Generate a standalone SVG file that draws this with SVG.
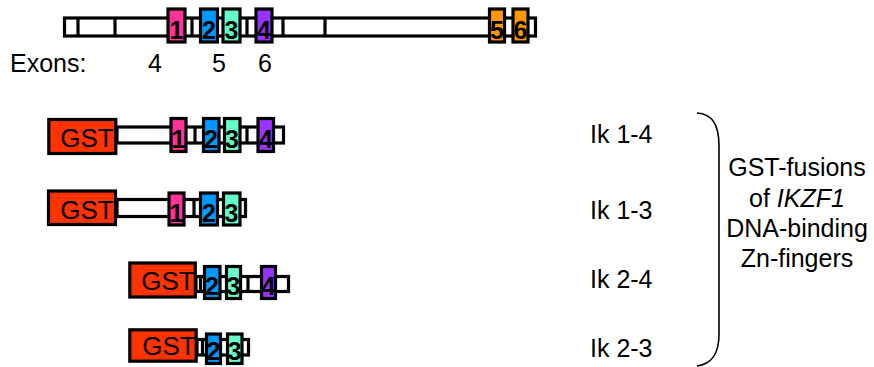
<svg xmlns="http://www.w3.org/2000/svg" width="874" height="367" viewBox="0 0 874 367">
  <defs>
    <style>
      .bar { fill: #fff; stroke: #000; stroke-width: 3.2; }
      .div { stroke: #000; stroke-width: 3.2; }
      .ex { stroke: #000; stroke-width: 3.2; }
      .e1 { fill: #FF3399; }
      .e2 { fill: #0099FF; }
      .e3 { fill: #66FFCC; }
      .e4 { fill: #9933FF; }
      .e5 { fill: #FF9900; }
      .gst { fill: #FF3300; stroke: #000; stroke-width: 3.2; }
      .num { font-family: "Liberation Sans", Arial, sans-serif; font-weight: bold; font-size: 25px; text-anchor: middle; fill: #000; }
      .lbl { font-family: "Liberation Sans", Arial, sans-serif; font-size: 25px; fill: #000; }
      .gtx { font-family: "Liberation Sans", Arial, sans-serif; font-size: 26px; text-anchor: middle; fill: #000; }
      .mid { text-anchor: middle; }
      .brace { fill: none; stroke: #000; stroke-width: 1.6; }
    </style>
  </defs>

  <!-- full-length gene model -->
  <g id="gene">
    <rect class="bar" x="64.5" y="18" width="471" height="18"/>
    <line class="div" x1="78" y1="18" x2="78" y2="36"/>
    <line class="div" x1="115" y1="18" x2="115" y2="36"/>
    <line class="div" x1="192" y1="18" x2="192" y2="36"/>
    <line class="div" x1="247" y1="18" x2="247" y2="36"/>
    <line class="div" x1="283" y1="18" x2="283" y2="36"/>
    <line class="div" x1="325" y1="18" x2="325" y2="36"/>
    <rect class="ex e1" x="168" y="9" width="17" height="33"/>
    <text class="num" x="176.5" y="39">1</text>
    <rect class="ex e2" x="200.5" y="9" width="17" height="33"/>
    <text class="num" x="209" y="39">2</text>
    <rect class="ex e3" x="223" y="9" width="17" height="33"/>
    <text class="num" x="231.5" y="39">3</text>
    <rect class="ex e4" x="256" y="9" width="16" height="33"/>
    <text class="num" x="264" y="39">4</text>
    <rect class="ex e5" x="489.5" y="9" width="15" height="33"/>
    <text class="num" x="497" y="39">5</text>
    <rect class="ex e5" x="513" y="9" width="15" height="33"/>
    <text class="num" x="520.5" y="39">6</text>
  </g>

  <g id="exon-labels">
    <text class="lbl" x="10" y="72">Exons:</text>
    <text class="lbl mid" x="155" y="72">4</text>
    <text class="lbl mid" x="219" y="72">5</text>
    <text class="lbl mid" x="265" y="72">6</text>
  </g>

  <!-- Ik 1-4 -->
  <g id="ik14">
    <rect class="bar" x="117" y="127" width="166.5" height="16"/>
    <line class="div" x1="195" y1="127" x2="195" y2="143"/>
    <line class="div" x1="247" y1="127" x2="247" y2="143"/>
    <rect class="gst" x="48.8" y="119.5" width="67" height="34"/>
    <text class="gtx" x="87" y="147">GST</text>
    <rect class="ex e1" x="171" y="118.5" width="15" height="33"/>
    <text class="num" x="178.5" y="148">1</text>
    <rect class="ex e2" x="203.5" y="118.5" width="15.5" height="33"/>
    <text class="num" x="211" y="148">2</text>
    <rect class="ex e3" x="224.5" y="118.5" width="15.5" height="33"/>
    <text class="num" x="232" y="148">3</text>
    <rect class="ex e4" x="258" y="118.5" width="15.5" height="33"/>
    <text class="num" x="266" y="148">4</text>
    <text class="lbl" x="590" y="143">Ik 1-4</text>
  </g>

  <!-- Ik 1-3 -->
  <g id="ik13">
    <rect class="bar" x="117" y="199.5" width="128.5" height="17"/>
    <line class="div" x1="194" y1="199.5" x2="194" y2="216.5"/>
    <rect class="gst" x="48.5" y="191" width="67" height="33.5"/>
    <text class="gtx" x="87" y="218.5">GST</text>
    <rect class="ex e1" x="169" y="193" width="15" height="32"/>
    <text class="num" x="176.5" y="222">1</text>
    <rect class="ex e2" x="200.5" y="193" width="17" height="32"/>
    <text class="num" x="209" y="222">2</text>
    <rect class="ex e3" x="223.5" y="193" width="16.5" height="32"/>
    <text class="num" x="231.5" y="222">3</text>
    <text class="lbl" x="590" y="219">Ik 1-3</text>
  </g>

  <!-- Ik 2-4 -->
  <g id="ik24">
    <rect class="bar" x="196" y="276.5" width="92.5" height="15"/>
    <line class="div" x1="200.5" y1="276.5" x2="200.5" y2="291.5"/>
    <line class="div" x1="248" y1="276.5" x2="248" y2="291.5"/>
    <rect class="gst" x="129.8" y="263" width="65.5" height="34"/>
    <text class="gtx" x="168" y="290">GST</text>
    <rect class="ex e2" x="204.5" y="266.5" width="15.5" height="32"/>
    <text class="num" x="212" y="295">2</text>
    <rect class="ex e3" x="226.5" y="266.5" width="14" height="32"/>
    <text class="num" x="233.5" y="295">3</text>
    <rect class="ex e4" x="261.5" y="266.5" width="14" height="32"/>
    <text class="num" x="268.5" y="295">4</text>
    <text class="lbl" x="590" y="288">Ik 2-4</text>
  </g>

  <!-- Ik 2-3 -->
  <g id="ik23">
    <rect class="bar" x="197" y="339.5" width="51.5" height="15.5"/>
    <line class="div" x1="202.5" y1="339.5" x2="202.5" y2="355"/>
    <rect class="gst" x="129.8" y="329.8" width="66.4" height="31.4"/>
    <text class="gtx" x="169" y="355">GST</text>
    <rect class="ex e2" x="206.5" y="334" width="14" height="29.5"/>
    <text class="num" x="213.5" y="360">2</text>
    <rect class="ex e3" x="227.5" y="334" width="14.5" height="29.5"/>
    <text class="num" x="234.7" y="360">3</text>
    <text class="lbl" x="590" y="357">Ik 2-3</text>
  </g>

  <!-- closing bracket and its caption -->
  <g id="bracket">
    <path class="brace" d="M 697 113 C 712 114, 719 124, 719 146 L 719 334 C 719 354, 712 364, 697 366"/>
  </g>
  <g id="caption">
    <text class="lbl mid" x="797" y="176">GST-fusions</text>
    <text class="lbl mid" x="797" y="207">of <tspan font-style="italic">IKZF1</tspan></text>
    <text class="lbl mid" x="797" y="237">DNA-binding</text>
    <text class="lbl mid" x="797" y="267">Zn-fingers</text>
  </g>
</svg>
